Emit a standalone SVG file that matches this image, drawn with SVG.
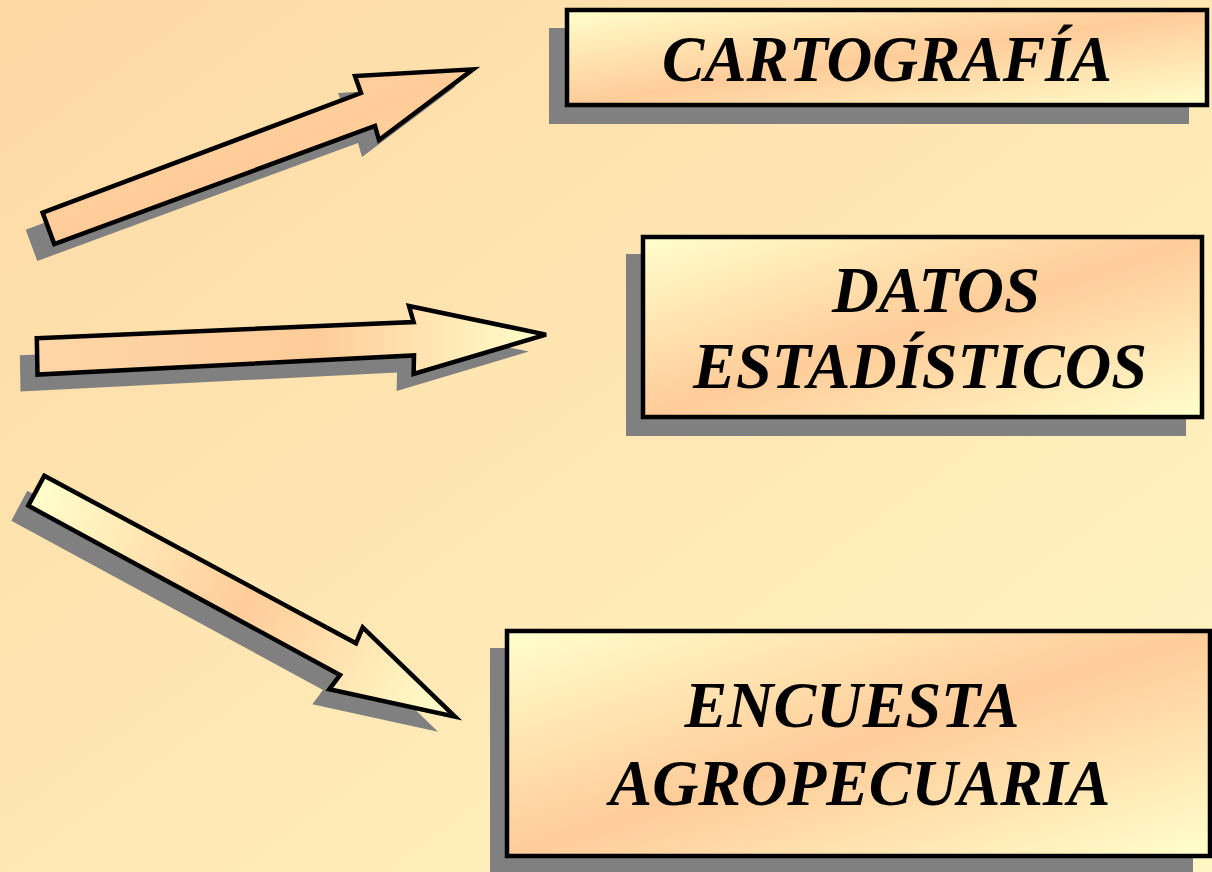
<svg xmlns="http://www.w3.org/2000/svg" width="1212" height="872" viewBox="0 0 1212 872">
<defs>
<linearGradient id="bg" x1="0" y1="0" x2="1" y2="1">
<stop offset="0" stop-color="#FED9A4"/>
<stop offset="1" stop-color="#FFF6C4"/>
</linearGradient>
<linearGradient id="ypy" x1="0" y1="0" x2="1" y2="1">
<stop offset="0" stop-color="#FFFFCC"/>
<stop offset="0.5" stop-color="#FFCC99"/>
<stop offset="1" stop-color="#FFFFCC"/>
</linearGradient>
<linearGradient id="a1" x1="0" y1="0" x2="1" y2="1">
<stop offset="0" stop-color="#FFD8A8"/>
<stop offset="0.5" stop-color="#FFCC99"/>
<stop offset="1" stop-color="#FFD8A8"/>
</linearGradient>
<linearGradient id="a2" x1="0" y1="0" x2="1" y2="0">
<stop offset="0" stop-color="#FFD6A6"/>
<stop offset="0.55" stop-color="#FFCC99"/>
<stop offset="1" stop-color="#FFFFCC"/>
</linearGradient>
<linearGradient id="a3" gradientUnits="userSpaceOnUse" x1="36" y1="490" x2="455" y2="717">
<stop offset="0" stop-color="#FFFFCC"/>
<stop offset="0.5" stop-color="#FFCC99"/>
<stop offset="1" stop-color="#FFFFCC"/>
</linearGradient>
</defs>
<style>
.sh{fill:#808080;stroke:none}
.ar{stroke:#000;stroke-width:4.5;stroke-linejoin:miter}
.bx{fill:url(#ypy);stroke:#000;stroke-width:4.5}
.t{font-family:"Liberation Serif","Times New Roman",serif;font-weight:bold;font-style:italic;font-size:66px;fill:#000;text-anchor:middle}
</style>
<rect width="1212" height="872" fill="url(#bg)"/>
<g id="connectors">
<g id="arrow1">
<polygon class="sh" transform="translate(-17,17)" points="42.7,212.7 361,93 355,76 473,69.3 379,140 375,126 54.3,244"/>
<polygon class="ar" fill="url(#a1)" points="42.7,212.7 361,93 355,76 473,69.3 379,140 375,126 54.3,244"/>
</g>
<g id="arrow2">
<polygon class="sh" transform="translate(-17,17)" points="36.8,338.2 413.6,322 409,306 546,334.6 413.6,374 414,355.4 37.5,374.6"/>
<polygon class="ar" fill="url(#a2)" points="36.8,338.2 413.6,322 409,306 546,334.6 413.6,374 414,355.4 37.5,374.6"/>
</g>
<g id="arrow3">
<polygon class="sh" transform="translate(-17,15)" points="44.3,475.7 356,643.3 362.7,627.3 455,716.7 329.3,689.3 340,675 28.3,505.7"/>
<polygon class="ar" fill="url(#a3)" points="44.3,475.7 356,643.3 362.7,627.3 455,716.7 329.3,689.3 340,675 28.3,505.7"/>
</g>
</g>
<g id="cartografia">
<rect class="sh" x="549" y="28" width="640" height="96"/>
<rect class="bx" x="567" y="10" width="640" height="95"/>
<text class="t" x="887" y="81" textLength="450" lengthAdjust="spacingAndGlyphs">CARTOGRAFÍA</text>
</g>
<g id="datos">
<rect class="sh" x="626" y="254" width="560" height="182"/>
<rect class="bx" x="643" y="237" width="559" height="180"/>
<text class="t" x="936" y="312" textLength="208" lengthAdjust="spacingAndGlyphs">DATOS</text>
<text class="t" x="920" y="388" textLength="454" lengthAdjust="spacingAndGlyphs">ESTADÍSTICOS</text>
</g>
<g id="encuesta">
<rect class="sh" x="490" y="648" width="703" height="230"/>
<rect class="bx" x="507" y="631" width="703" height="225"/>
<text class="t" x="852" y="727" textLength="335" lengthAdjust="spacingAndGlyphs">ENCUESTA</text>
<text class="t" x="860" y="805" textLength="501" lengthAdjust="spacingAndGlyphs">AGROPECUARIA</text>
</g>
</svg>
